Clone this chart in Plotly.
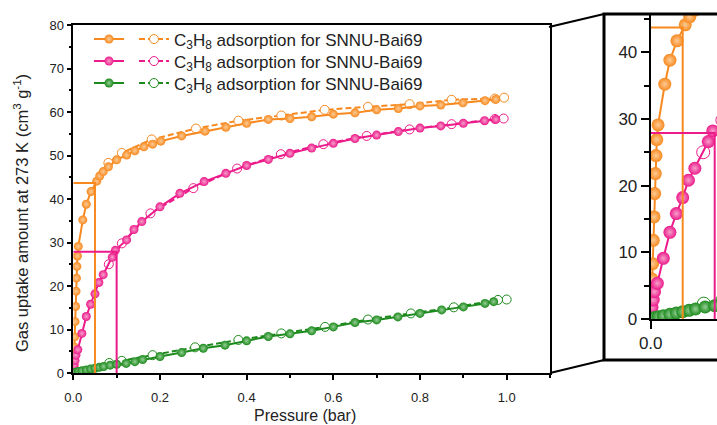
import plotly.graph_objects as go

# ---------------- data ----------------
orange_ads_x = [0.0005, 0.001, 0.0015, 0.002, 0.003, 0.004, 0.0052, 0.0062, 0.0072, 0.0083, 0.0095, 0.0115,
                0.022, 0.030, 0.041, 0.054, 0.061, 0.069, 0.081, 0.10, 0.123, 0.142, 0.163, 0.183, 0.202,
                0.25, 0.304, 0.352, 0.40, 0.45, 0.50, 0.55, 0.60, 0.65, 0.70, 0.75, 0.80, 0.848, 0.899, 0.95, 0.975]
orange_ads_y = [0.5, 2.0, 4.0, 6.0, 8.3, 11.8, 15.3, 18.8, 21.8, 24.5, 26.9, 29.1,
                35.2, 38.8, 41.7, 44.1, 45.3, 46.3, 47.4, 49.0, 50.1, 51.1, 52.0, 52.6, 53.3,
                54.5, 55.6, 56.5, 57.4, 58.3, 58.5, 58.9, 59.5, 59.8, 60.5, 60.8, 61.4, 61.6, 62.1, 62.6, 62.9]
orange_des_x = [0.994, 0.973, 0.873, 0.776, 0.68, 0.58, 0.48, 0.381, 0.283, 0.181, 0.112, 0.081]
orange_des_y = [63.3, 63.1, 62.8, 61.8, 61.2, 60.5, 59.2, 58.0, 56.2, 53.7, 50.6, 48.3]

pink_ads_x = [0.0005, 0.002, 0.004, 0.006, 0.0104, 0.0197, 0.030, 0.040, 0.050, 0.059, 0.069, 0.09, 0.097,
              0.123, 0.140, 0.158, 0.20, 0.246, 0.302, 0.352, 0.40, 0.45, 0.50, 0.55, 0.60, 0.65, 0.70,
              0.75, 0.80, 0.848, 0.90, 0.949, 0.975]
pink_ads_y = [0.5, 1.75, 2.85, 4.1, 5.35, 9.1, 13.0, 15.8, 18.2, 20.8, 22.6, 26.6, 28.2,
              30.6, 33.0, 34.8, 38.2, 41.3, 44.0, 45.9, 47.7, 49.1, 50.5, 51.7, 52.8, 53.9, 54.7,
              55.5, 56.3, 56.8, 57.4, 58.0, 58.3]
pink_des_x = [0.993, 0.973, 0.873, 0.776, 0.677, 0.577, 0.479, 0.378, 0.277, 0.178, 0.112, 0.082]
pink_des_y = [58.5, 58.4, 57.2, 56.0, 54.5, 52.6, 50.3, 47.0, 42.5, 36.7, 29.8, 25.0]

green_ads_x = [0.002, 0.006, 0.012, 0.02, 0.03, 0.04, 0.05, 0.06, 0.07, 0.085, 0.10, 0.122, 0.142, 0.16,
               0.20, 0.25, 0.30, 0.35, 0.40, 0.45, 0.50, 0.55, 0.60, 0.65, 0.70, 0.749, 0.80, 0.85, 0.90,
               0.95, 0.97]
green_ads_y = [0.1, 0.2, 0.35, 0.5, 0.7, 0.9, 1.1, 1.3, 1.5, 1.8, 2.0, 2.2, 2.6, 3.1,
               3.8, 4.7, 5.7, 6.4, 7.4, 8.4, 9.0, 9.7, 10.6, 11.6, 12.2, 12.9, 13.7, 14.5, 15.2,
               16.0, 16.4]
green_des_x = [1.0, 0.98, 0.878, 0.779, 0.68, 0.581, 0.48, 0.381, 0.281, 0.183, 0.112, 0.083]
green_des_y = [16.9, 16.8, 15.1, 13.7, 12.3, 10.6, 9.1, 7.6, 5.9, 4.1, 2.8, 2.3]

# guide lines (pressure, uptake)
guide_orange_x = [0.0, 0.05, 0.05]
guide_orange_y = [43.7, 43.7, 0.0]
guide_pink_x = [0.0, 0.1, 0.1]
guide_pink_y = [27.9, 27.9, 0.0]

legend_label = "C<sub>3</sub>H<sub>8</sub> adsorption for SNNU-Bai69"
x_title = "Pressure (bar)"
y_title = "Gas uptake amount at 273 K (cm<sup>3</sup> g<sup>-1</sup>)"

# ---------------- styling ----------------
ORANGE, PINK, GREEN = "#F7891F", "#EC1A8A", "#1D8A1D"
TINT = {ORANGE: "#FDCB95", PINK: "#F7A0CB", GREEN: "#93CE93"}
W, H = 717, 425

series = [
    (orange_ads_x, orange_ads_y, orange_des_x, orange_des_y, ORANGE, "legend"),
    (pink_ads_x, pink_ads_y, pink_des_x, pink_des_y, PINK, "legend2"),
    (green_ads_x, green_ads_y, green_des_x, green_des_y, GREEN, "legend3"),
]

fig = go.Figure()

for xa, ya, xd, yd, col, leg in series:
    for axes, msize, show in (("main", 9, True), ("inset", 13, False)):
        xr, yr = ("x", "y") if axes == "main" else ("x2", "y2")
        fig.add_trace(go.Scatter(
            x=xd, y=yd, xaxis=xr, yaxis=yr, mode="lines+markers",
            line=dict(color=col, width=2, dash="6px,3px"),
            marker=dict(size=msize, color="white", line=dict(color=col, width=1)),
            name=legend_label, legend=leg, showlegend=show, legendrank=2))
        fig.add_trace(go.Scatter(
            x=xa, y=ya, xaxis=xr, yaxis=yr, mode="lines+markers",
            line=dict(color=col, width=2),
            marker=dict(size=msize, color=col, line=dict(width=0),
                        gradient=dict(type="radial", color=TINT[col])),
            name="", legend=leg, showlegend=show, legendrank=1))

for gx, gy, col in ((guide_orange_x, guide_orange_y, ORANGE), (guide_pink_x, guide_pink_y, PINK)):
    for xr, yr in (("x", "y"), ("x2", "y2")):
        fig.add_trace(go.Scatter(x=gx, y=gy, xaxis=xr, yaxis=yr, mode="lines",
                                 line=dict(color=col, width=2), showlegend=False, hoverinfo="skip"))

FONT = "Liberation Sans, Arial, sans-serif"

def px_x(p):
    return p / W

def px_y(p):
    return 1 - p / H

main_x0, main_x1, main_yt, main_yb = 73.3, 550.0, 25.0, 373.0
ins_x0, ins_yt, ins_yb = 650.7, 15.0, 319.0

axis_common = dict(showgrid=False, zeroline=False, linecolor="black", ticks="outside", automargin=False,
                   tickcolor="black", tickfont=dict(family=FONT, size=13, color="#222"))

fig.update_layout(
    width=W, height=H, margin=dict(l=0, r=0, t=0, b=0, autoexpand=False),
    paper_bgcolor="white", plot_bgcolor="rgba(0,0,0,0)",
    font=dict(family=FONT, color="#222"),
    xaxis=dict(domain=[px_x(main_x0), px_x(main_x1)], range=[0, 1.1], dtick=0.2, tick0=0,
               tickformat=".1f", ticklen=5, tickwidth=1.5, linewidth=1.5, mirror=True,
               ticklabelstandoff=7,
               minor=dict(dtick=0.1, ticks="outside", ticklen=3, tickwidth=1.5, tickcolor="black"),
               anchor="y", **axis_common),
    yaxis=dict(domain=[px_y(main_yb), px_y(main_yt)], range=[0, 80], dtick=10, tick0=0,
               ticklen=5, tickwidth=1.5, linewidth=1.5, mirror=True,
               minor=dict(dtick=5, ticks="outside", ticklen=3, tickwidth=1.5, tickcolor="black"),
               anchor="x", **axis_common),
    xaxis2=dict(domain=[px_x(ins_x0), 1.0], range=[0, (W - ins_x0) / 640.0], tickvals=[0],
                tickformat=".1f", ticklen=8, tickwidth=2, linewidth=2, anchor="y2", automargin=False,
                showgrid=False, zeroline=False, linecolor="black", ticks="outside", tickcolor="black",
                tickfont=dict(family=FONT, size=17, color="#222")),
    yaxis2=dict(domain=[px_y(ins_yb), px_y(ins_yt)], range=[0, (ins_yb - ins_yt) / 6.67], dtick=10, tick0=0,
                ticklen=8, tickwidth=2, linewidth=2, anchor="x2", automargin=False,
                minor=dict(dtick=5, ticks="outside", ticklen=5, tickwidth=2, tickcolor="black"),
                showgrid=False, zeroline=False, linecolor="black", ticks="outside", tickcolor="black",
                tickfont=dict(family=FONT, size=17, color="#222")),
)

leg_common = dict(orientation="h", xanchor="left", yanchor="middle", bgcolor="rgba(0,0,0,0)",
                  font=dict(family=FONT, size=17, color="#222"), itemwidth=30, traceorder="normal")
fig.update_layout(
    legend=dict(x=px_x(89), y=px_y(39.5), **leg_common),
    legend2=dict(x=px_x(89), y=px_y(61.5), **leg_common),
    legend3=dict(x=px_x(89), y=px_y(83.5), **leg_common),
)

fig.add_annotation(text=x_title, xref="paper", yref="paper", x=px_x(305), y=px_y(415),
                   xanchor="center", yanchor="middle", showarrow=False,
                   font=dict(family=FONT, size=16, color="#222"))
fig.add_annotation(text=y_title, xref="paper", yref="paper", x=px_x(21), y=px_y(213),
                   xanchor="center", yanchor="middle", showarrow=False, textangle=-90,
                   font=dict(family=FONT, size=16.5, color="#222"))

# inset frame and connector lines (decoration, paper coordinates)
shapes = [
    dict(type="rect", xref="paper", yref="paper", x0=px_x(604), x1=1.02, y0=px_y(360), y1=px_y(14),
         line=dict(color="black", width=3)),
    dict(type="line", xref="paper", yref="paper", x0=px_x(549), y0=px_y(27), x1=px_x(604), y1=px_y(14),
         line=dict(color="black", width=2)),
    dict(type="line", xref="paper", yref="paper", x0=px_x(550), y0=px_y(373), x1=px_x(604), y1=px_y(360),
         line=dict(color="black", width=2)),
]
fig.update_layout(shapes=shapes)

fig.write_html("out.html")
